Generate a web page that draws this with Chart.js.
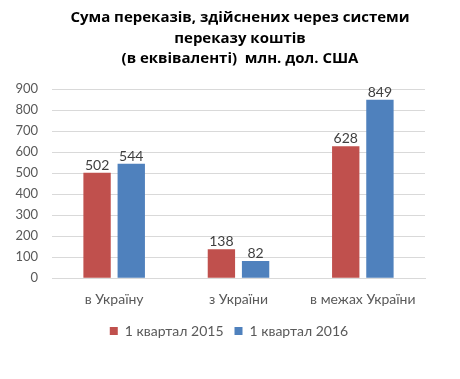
<!DOCTYPE html>
<html>
<head>
<meta charset="utf-8">
<script src="https://cdn.jsdelivr.net/npm/chart.js@4/dist/chart.umd.min.js"></script>
<style>
  html, body { margin: 0; padding: 0; background: #fff; }
  #wrap { width: 460px; height: 379px; position: relative; }
</style>
</head>
<body>
<div id="wrap"><canvas id="chart"></canvas></div>
<script>
'use strict';

var titleLines = ['Сума переказів, здійснених через системи', 'переказу коштів', '(в еквіваленті)  млн. дол. США'];
var categories = ['в Україну', 'з України', 'в межах України'];
var q1_2015 = [502, 138, 628];
var q1_2016 = [544, 82, 849];
var yTicks = [0, 100, 200, 300, 400, 500, 600, 700, 800, 900];

// Value labels above each bar.
var valueLabels = {
  id: 'valueLabels',
  afterDatasetsDraw: function (chart) {
    var ctx = chart.ctx;
    ctx.save();
    ctx.font = '14px Lato, "Open Sans", sans-serif';
    ctx.fillStyle = '#404040';
    ctx.textAlign = 'center';
    ctx.textBaseline = 'alphabetic';
    chart.data.datasets.forEach(function (ds, i) {
      chart.getDatasetMeta(i).data.forEach(function (bar, j) {
        ctx.fillText(String(ds.data[j]), bar.x, bar.y - 3);
      });
    });
    ctx.restore();
  }
};

// Title drawn by hand so it can sit centred on the page, not on the plot.
var pageTitle = {
  id: 'pageTitle',
  afterDraw: function (chart) {
    var ctx = chart.ctx;
    ctx.save();
    ctx.font = 'bold 15px "Open Sans", sans-serif';
    ctx.fillStyle = '#000';
    ctx.textAlign = 'center';
    ctx.textBaseline = 'middle';
    titleLines.forEach(function (line, i) {
      ctx.fillText(line, 240, 18 + i * 20.5);
    });
    ctx.restore();
  }
};

(function () {
  var canvas = document.getElementById('chart');
  new Chart(canvas, {
    type: 'bar',
    data: {
      labels: categories,
      datasets: [
        { label: '1 квартал 2015', data: q1_2015, backgroundColor: '#C0504D' },
        { label: '1 квартал 2016', data: q1_2016, backgroundColor: '#4F81BD' }
      ]
    },
    options: {
      responsive: true,
      maintainAspectRatio: false,
      animation: false,
      layout: { padding: { left: 2, right: 4, top: 89, bottom: 31 } },
      datasets: { bar: { categoryPercentage: 0.55, barPercentage: 0.8 } },
      scales: {
        x: {
          grid: { display: false },
          border: { color: '#d9d9d9' },
          ticks: { color: '#595959', font: { family: 'Lato', size: 14 }, padding: 5 }
        },
        y: {
          min: 0,
          max: 900,
          afterBuildTicks: function (axis) {
            axis.ticks = yTicks.map(function (v) { return { value: v }; });
          },
          afterFit: function (axis) { axis.width = 50; },
          grid: { color: '#d9d9d9', drawTicks: false },
          border: { display: false },
          ticks: { color: '#595959', font: { family: 'Lato', size: 13 }, padding: 14 }
        },
        // empty spacer on the right so the plot ends where the original does
        spacer: {
          type: 'linear',
          position: 'right',
          grid: { display: false },
          border: { display: false },
          ticks: { display: false },
          afterFit: function (axis) { axis.width = 31; }
        }
      },
      plugins: {
        title: { display: false },
        legend: {
          position: 'bottom',
          labels: {
            color: '#595959',
            font: { family: 'Lato', size: 14 },
            boxWidth: 8,
            boxHeight: 8,
            padding: 11
          }
        },
        tooltip: { enabled: false }
      }
    },
    plugins: [valueLabels, pageTitle]
  });
})();
</script>
</body>
</html>
